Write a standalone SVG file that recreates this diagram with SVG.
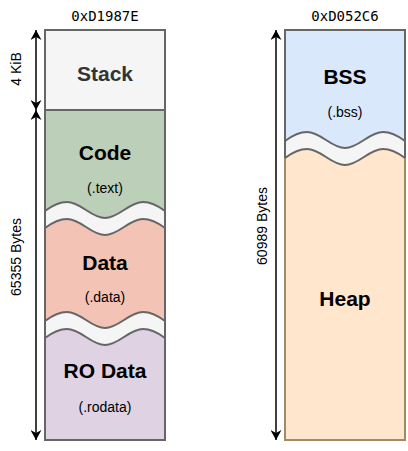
<svg xmlns="http://www.w3.org/2000/svg" width="408" height="451" viewBox="0 0 408 451">
<defs>
<marker id="ah" markerUnits="userSpaceOnUse" markerWidth="10" markerHeight="11" refX="10" refY="5.5" orient="auto-start-reverse" viewBox="0 0 10 11">
<path d="M0,0 L10,5.5 L0,11 L3,5.5 z" fill="#000"/>
</marker>
</defs>
<style>
.title{font-family:"DejaVu Sans Mono",monospace;font-size:14px;fill:#000;text-anchor:middle}
.big{font-family:"Liberation Sans",Arial,sans-serif;font-size:21px;font-weight:bold;text-anchor:middle;dominant-baseline:central}
.sub{font-family:"Liberation Sans",Arial,sans-serif;font-size:14px;text-anchor:middle;dominant-baseline:central;fill:#000}
.lbl{font-family:"Liberation Sans",Arial,sans-serif;font-size:14px;text-anchor:middle;dominant-baseline:central;fill:#000}
.edge{fill:none;stroke:#666;stroke-width:2}
.arr{fill:none;stroke:#000;stroke-width:1.5;marker-start:url(#ah);marker-end:url(#ah)}
</style>
<text class="title" x="105" y="21">0xD1987E</text>
<text class="title" x="345" y="21">0xD052C6</text>

<g id="left-column">
<rect x="45" y="110" width="120" height="330" fill="#f5f5f5"/>
<g id="stack">
<rect x="45" y="30" width="120" height="80" fill="#f5f5f5" stroke="#666" stroke-width="2"/>
<text class="big" x="105" y="73" fill="#333">Stack</text>
</g>
<g id="code">
<path d="M45,110 H165 V211 C157,205 151,202 143,202 C129,202 119,218 105,218 C91,218 81,202 67,202 C59,202 53,205 45,211 Z" fill="#bccfb8"/>
<text class="big" x="105" y="152" fill="#000">Code</text>
<text class="sub" x="105" y="188">(.text)</text>
</g>
<g id="data">
<path d="M45,228 C53,222 59,219 67,219 C81,219 91,235 105,235 C119,235 129,219 143,219 C151,219 157,222 165,228 V321 C157,315 151,312 143,312 C129,312 119,328 105,328 C91,328 81,312 67,312 C59,312 53,315 45,321 Z" fill="#f3c3b6"/>
<text class="big" x="105" y="262" fill="#000">Data</text>
<text class="sub" x="105" y="297">(.data)</text>
</g>
<g id="rodata">
<path d="M45,338 C53,332 59,329 67,329 C81,329 91,345 105,345 C119,345 129,329 143,329 C151,329 157,332 165,338 V440 H45 Z" fill="#ded2e3"/>
<text class="big" x="105" y="370" fill="#000">RO Data</text>
<text class="sub" x="105" y="407">(.rodata)</text>
</g>
<path class="edge" d="M45,211 C53,205 59,202 67,202 C81,202 91,218 105,218 C119,218 129,202 143,202 C151,202 157,205 165,211"/>
<path class="edge" d="M45,228 C53,222 59,219 67,219 C81,219 91,235 105,235 C119,235 129,219 143,219 C151,219 157,222 165,228"/>
<path class="edge" d="M45,321 C53,315 59,312 67,312 C81,312 91,328 105,328 C119,328 129,312 143,312 C151,312 157,315 165,321"/>
<path class="edge" d="M45,338 C53,332 59,329 67,329 C81,329 91,345 105,345 C119,345 129,329 143,329 C151,329 157,332 165,338"/>
<rect class="edge" x="45" y="110" width="120" height="330" stroke="#777"/>
</g>

<g id="right-column">
<rect x="285" y="130" width="120" height="40" fill="#f5f5f5"/>
<g id="bss">
<path d="M285,30 H405 V141 C397,135 391,132 383,132 C369,132 359,148 345,148 C331,148 321,132 307,132 C299,132 293,135 285,141 Z" fill="#dae8fc"/>
<text class="big" x="345" y="76" fill="#000">BSS</text>
<text class="sub" x="345" y="112">(.bss)</text>
</g>
<g id="heap">
<path d="M285,158 C293,152 299,149 307,149 C321,149 331,165 345,165 C359,165 369,149 383,149 C391,149 397,152 405,158 V440 H285 Z" fill="#ffe6cc"/>
<path d="M285,158 V440 H405 V158" fill="none" stroke="#9e8c62" stroke-width="2"/>
<text class="big" x="345" y="298" fill="#000">Heap</text>
</g>
<path class="edge" d="M285,158 V30 H405 V158" stroke="#777"/>
<path class="edge" d="M285,141 C293,135 299,132 307,132 C321,132 331,148 345,148 C359,148 369,132 383,132 C391,132 397,135 405,141"/>
<path class="edge" d="M285,158 C293,152 299,149 307,149 C321,149 331,165 345,165 C359,165 369,149 383,149 C391,149 397,152 405,158"/>
</g>

<g id="connectors">
<line class="arr" x1="36" y1="30" x2="36" y2="110"/>
<line class="arr" x1="36" y1="110" x2="36" y2="440"/>
<line class="arr" x1="276" y1="30" x2="276" y2="440"/>
</g>
<text class="lbl" transform="translate(16,69) rotate(-90)">4 KiB</text>
<text class="lbl" transform="translate(16,257) rotate(-90)">65355 Bytes</text>
<text class="lbl" transform="translate(262,226) rotate(-90)">60989 Bytes</text>
</svg>
